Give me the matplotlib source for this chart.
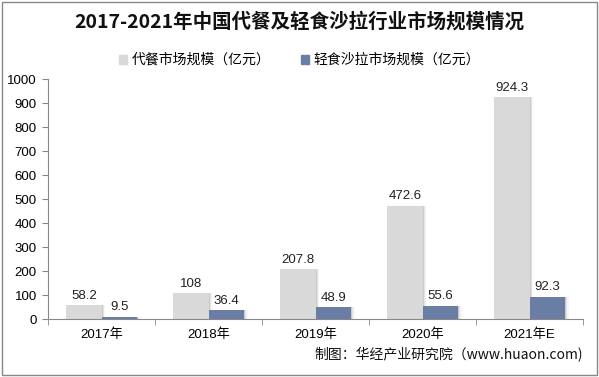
import matplotlib
matplotlib.use("Agg")
import matplotlib.pyplot as plt
import numpy as np
from matplotlib.patches import Rectangle

plt.rcParams['font.family'] = ['Liberation Sans', 'Noto Sans CJK SC']

categories = ["2017年", "2018年", "2019年", "2020年", "2021年E"]
meal = [58.2, 108, 207.8, 472.6, 924.3]
salad = [9.5, 36.4, 48.9, 55.6, 92.3]
meal_labels = ["58.2", "108", "207.8", "472.6", "924.3"]
salad_labels = ["9.5", "36.4", "48.9", "55.6", "92.3"]
series_names = ["代餐市场规模（亿元）", "轻食沙拉市场规模（亿元）"]
title = "2017-2021年中国代餐及轻食沙拉行业市场规模情况"
source = "制图：华经产业研究院（www.huaon.com)"

c_gray = "#d9d9d9"
c_blue = "#6a7da5"

fig = plt.figure(figsize=(5.99, 3.77), dpi=100)
ax = fig.add_axes([48/599, 1-319/377, (583-48)/599, (319-79)/377])

x = np.arange(len(categories))
w = 0.33
# soft shadows
for off, a in [(0.012, 0.10), (0.024, 0.07), (0.036, 0.04)]:
    for xi, v in zip(x, meal):
        ax.bar(xi - w/2 + off, v, w, color="#000000", alpha=a, zorder=1, linewidth=0)
    for xi, v in zip(x, salad):
        ax.bar(xi + w/2 + off, v, w, color="#000000", alpha=a, zorder=1, linewidth=0)
ax.bar(x - w/2, meal, w, color=c_gray, zorder=2, linewidth=0)
ax.bar(x + w/2, salad, w, color=c_blue, zorder=2, linewidth=0)

for xi, v, t in zip(x, meal, meal_labels):
    ax.text(xi - w/2, v + 14, t, ha="center", va="bottom", fontsize=9.5, color="#222222")
for xi, v, t in zip(x, salad, salad_labels):
    ax.text(xi + w/2, v + 14, t, ha="center", va="bottom", fontsize=9.5, color="#222222")

ax.set_xlim(-0.5, len(categories) - 0.5)
ax.set_ylim(0, 1000)
ax.set_yticks(np.arange(0, 1001, 100))
ax.set_xticks(x)
ax.set_xticklabels(categories, fontsize=9.5)
ax.set_xticks(np.arange(-0.5, len(categories)), minor=True)
ax.tick_params(axis="x", which="major", length=0, pad=7)
ax.tick_params(axis="x", which="minor", length=4, color="#888888", direction="out")
ax.tick_params(axis="y", length=4, color="#888888", labelsize=9.5, pad=4)
for s in ["top", "right"]:
    ax.spines[s].set_visible(False)
for s in ["left", "bottom"]:
    ax.spines[s].set_color("#888888")
    ax.spines[s].set_linewidth(0.8)

fig.text(0.5, 1 - 22/377, title, ha="center", va="center", fontsize=14, fontweight="bold",
         color="#111111", family=["Noto Sans CJK SC"])

handles = [Rectangle((0, 0), 1, 1, color=c_gray), Rectangle((0, 0), 1, 1, color=c_blue)]
fig.legend(handles, series_names, loc="center", bbox_to_anchor=(0.5, 1 - 60/377), ncol=2,
           frameon=False, fontsize=10, handlelength=0.6, handleheight=0.6, handletextpad=0.3,
           columnspacing=2.2, prop={"family": ["Noto Sans CJK SC"], "size": 10})

fig.text(583/599, 1 - 355/377, source, ha="right", va="center", fontsize=10, color="#111111",
         family=["Noto Sans CJK SC"])

border = Rectangle((0.003, 0.004), 0.994, 0.992, transform=fig.transFigure, fill=False,
                   edgecolor="#888888", linewidth=1)
fig.patches.append(border)

fig.savefig("out.png", dpi=100)
